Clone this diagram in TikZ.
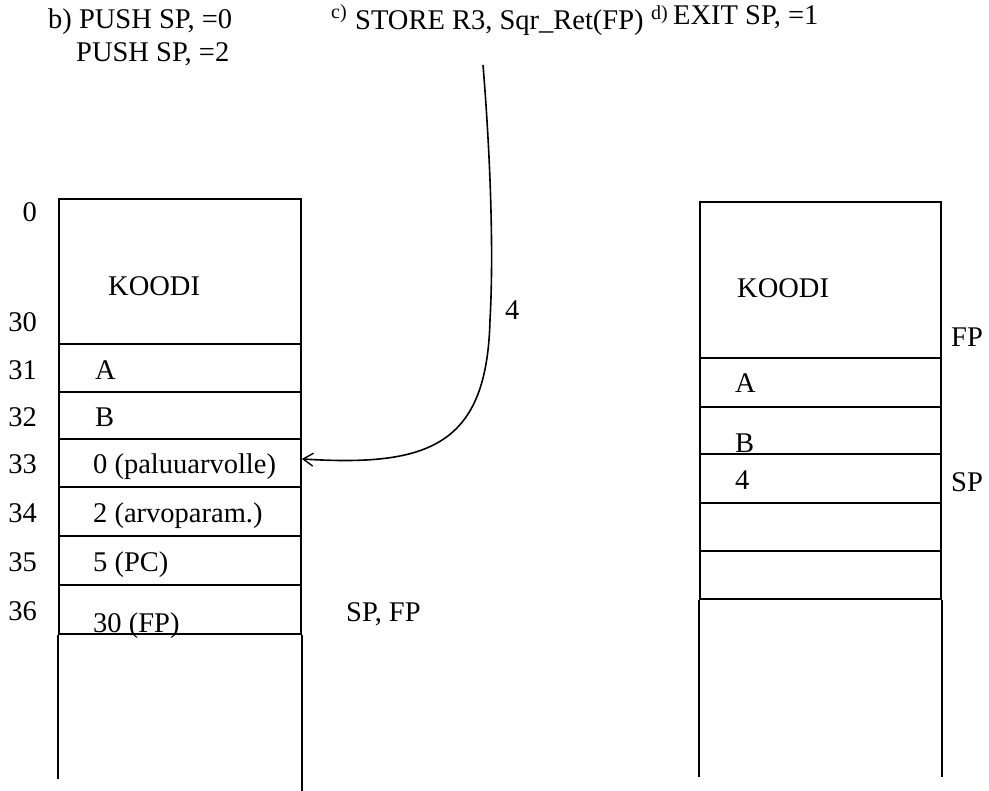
\documentclass[tikz,border=0pt]{standalone}
\usepackage{fontspec}
\setmainfont{Liberation Serif}
\usetikzlibrary{arrows.meta}
\begin{document}
\begin{tikzpicture}[x=1pt,y=-1pt,
  every node/.style={font=\fontsize{28.5}{31}\selectfont, inner sep=0pt},
  cell/.style={draw, line width=1.9pt, minimum width=242pt, anchor=north west},
  lbl/.style={anchor=base west},
  num/.style={anchor=base east},
  tag/.style={font=\fontsize{20}{22}\selectfont, anchor=base west},
  wall/.style={line width=1.9pt},
  wire/.style={line width=1.6pt, -{Straight Barb[length=10pt,width=13pt,line width=1.4pt]}}]
\useasboundingbox (0,0) rectangle (989,791);

% headings
\node[lbl] (hb1) at (48,29) {b) PUSH SP, =0};
\node[lbl] (hb2) at (76,62) {PUSH SP, =2};
\node[tag] (hc) at (331,19) {c)};
\node[lbl] (hc2) at (355,30) {STORE R3, Sqr\_Ret(FP)};
\node[tag] (hd) at (651,20) {d)};
\node[lbl] (hd2) at (673,25) {EXIT SP, =1};

% left stack
\node[cell, minimum height=145pt] (L0) at (58,198) {};
\node[cell, minimum height=48pt] (LA) at (58,343) {};
\node[cell, minimum height=47pt] (LB) at (58,391) {};
\node[cell, minimum height=48pt] (L33) at (58,438) {};
\node[cell, minimum height=49pt] (L34) at (58,486) {};
\node[cell, minimum height=49pt] (L35) at (58,535) {};
\node[cell, minimum height=49pt] (L36) at (58,584) {};
\draw[wall] (L36.south west) -- ++(0,144);
\draw[wall] (L36.south east) -- ++(0,157);

\node[num] (a0) at (37,222) {0};
\node[num] (a30) at (37,332) {30};
\node[num] (a31) at (37,380) {31};
\node[num] (a32) at (37,427) {32};
\node[num] (a33) at (37,474) {33};
\node[num] (a34) at (37,523) {34};
\node[num] (a35) at (37,572) {35};
\node[num] (a36) at (37,620) {36};

\node[lbl] (tk) at (108,296) {KOODI};
\node[lbl] (ta) at (95,380) {A};
\node[lbl] (tb) at (95,427) {B};
\node[lbl] (t33) at (93,474) {0 (paluuarvolle)};
\node[lbl] (t34) at (93,523) {2 (arvoparam.)};
\node[lbl] (t35) at (93,572) {5 (PC)};
\node[lbl] (t36) at (93,633) {30 (FP)};
\node[lbl] (spfp) at (346,622) {SP, FP};

% right stack
\node[cell, minimum height=156pt, minimum width=241pt] (R0) at (699,201) {};
\node[cell, minimum height=49pt, minimum width=241pt] (RA) at (699,357) {};
\node[cell, minimum height=47pt, minimum width=241pt] (RB) at (699,406) {};
\node[cell, minimum height=49pt, minimum width=241pt] (R4) at (699,453) {};
\node[cell, minimum height=48pt, minimum width=241pt] (R5) at (699,502) {};
\node[cell, minimum height=48pt, minimum width=241pt] (R6) at (699,550) {};
\draw[wall] (R6.south west) -- ++(0,177);
\draw[wall] (R6.south east) -- ++(0,177);

\node[lbl] (rk) at (737,298) {KOODI};
\node[lbl] (rfp) at (951,347) {FP};
\node[lbl] (ra) at (735,393) {A};
\node[lbl] (rb) at (735,453) {B};
\node[lbl] (r4) at (735,490) {4};
\node[lbl] (rsp) at (951,492) {SP};

% connector
\coordinate (top) at (483,65);
\node[lbl] (four) at (505,320) {4};
\draw[wire] (top) .. controls (490,150) and (494,250) .. (490,320)
  .. controls (487,445) and (430,467) .. ([yshift=4pt]L33.east);
\end{tikzpicture}
\end{document}
